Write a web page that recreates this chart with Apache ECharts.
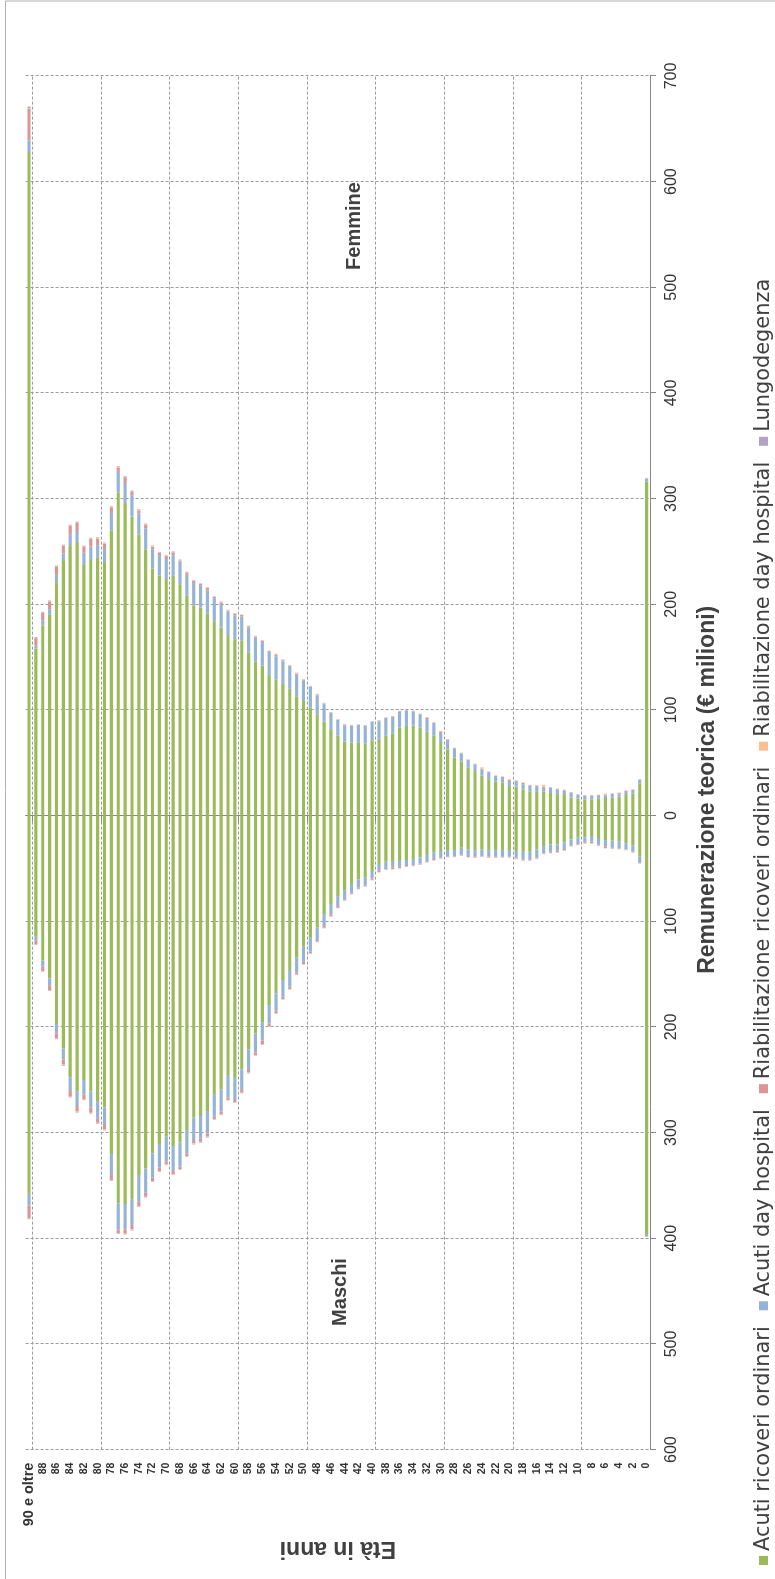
<!DOCTYPE html>
<html>
<head>
<meta charset="utf-8">
<script src="https://cdn.jsdelivr.net/npm/echarts@6/dist/echarts.min.js"></script>
<style>
html,body{margin:0;padding:0;background:#fff;width:775px;height:1579px;overflow:hidden;}
#chart{position:absolute;left:0;top:0;width:1579px;height:775px;transform-origin:0 0;transform:translate(0,1579px) rotate(-90deg);}
</style>
</head>
<body>
<div id="chart"></div>
<script>
// Categories: age classes, oldest first
const ages = ['90 e oltre','89','88','87','86','85','84','83','82','81','80','79','78','77','76','75','74','73','72','71','70','69','68','67','66','65','64','63','62','61','60','59','58','57','56','55','54','53','52','51','50','49','48','47','46','45','44','43','42','41','40','39','38','37','36','35','34','33','32','31','30','29','28','27','26','25','24','23','22','21','20','19','18','17','16','15','14','13','12','11','10','9','8','7','6','5','4','3','2','1','0'];

const seriesNames = ['Acuti ricoveri ordinari','Acuti day hospital','Riabilitazione ricoveri ordinari','Riabilitazione day hospital','Lungodegenza'];

// Femmine (€ milioni)
const femAcutiOrd = [628,158,180,190,221,241,256,259,238,243,244,240,270,306,296,283,266,252,234,227,224,227,219,208,199,197,191,184,178,171,167,166,154,146,142,133,129,124.5,120,112.5,108.5,102.5,96,89,81,75.6,70,69.4,69.4,68.4,71.3,72.8,75.6,77.9,83.2,84.8,85.1,83.2,79.4,76,69.7,62.7,55,51,45.3,42.2,37.8,34.6,32.1,31.5,28,27.4,24.9,23,22.4,23,21.4,20.4,20.4,17,16,15.4,15.4,16,16.7,17,17.9,19.5,21.1,30.6,316];
const femAcutiDH = [11,3,4.5,5.4,6.9,7.3,10.4,10.4,10.8,11.7,12,12.3,16.4,19.3,18.8,19.9,19.9,19.9,18,18.9,18.9,19.5,21.4,19.9,21.2,21.1,22.1,21.8,22,22.1,22.6,22.6,24,22.4,22.3,22,21.8,21.5,20.8,20.9,19.2,19.6,17.6,16.4,16.4,14.9,15.4,15.7,16.3,16.7,17.3,16.4,16.7,15.7,15.4,14.5,13.5,12.6,12,11.6,8.4,7.9,8.6,7.9,7.3,6.3,6,6.6,5.4,5,4.7,5.3,4.9,5.6,5.8,4.1,5.1,4.5,3.6,4.7,3.8,3.5,3.5,2.6,2.5,3.5,2.3,2.9,3.2,3.2,3];
const femRiabOrd = [30,7,7.3,7.3,7.9,7.2,7.9,7.9,5.7,7.3,6.3,5.1,5.4,4.2,5.6,4,3,3.6,2.6,2.7,2.7,2.7,1.2,2,2,1.2,2.3,1.2,1.8,1.1,1.5,1.3,1.2,1.2,1.1,0.7,1.7,1.1,1.1,1.1,0.9,0.4,1.1,0.8,0.4,0.4,0.8,0.4,0.4,0.4,0.4,0.8,0.4,0.4,0.4,0.4,0.4,0.4,1.2,0.4,1.5,1.3,0.4,0.3,0.3,0.3,0.6,0.3,0.3,0.3,1.1,0.3,1.1,0.3,0.3,0.3,0.3,0.3,0.3,0.3,0.3,0.3,0.3,0.8,0.8,0.3,1.1,1.1,0.3,0.3,0.3];
const femRiabDH = [0.5,0.3,0.3,0.3,0.3,0.3,0.4,0.4,0.4,0.4,0.5,0.5,0.5,1,0.6,0.5,0.8,0.5,0.6,0.5,0.5,0.5,0.4,0.5,0.5,0.4,0.5,0.4,0.5,0.4,0.4,0.3,0.4,0.4,0.5,0.3,0.5,0.5,0.5,0.5,0.4,0.2,0.5,0.4,0.2,0.2,0.4,0.2,0.2,0.2,0.2,0.4,0.2,0.2,0.2,0.2,0.2,0.2,0.6,0.2,0.6,0.5,0.2,0.2,0.2,0.2,1.2,0.2,0.2,0.2,0.4,0.2,0.4,0.2,0.2,1.6,0.2,0.2,0.2,0.2,0.2,0.2,0.2,0.3,0.8,0.2,0.4,0.4,0.2,0.2,0.2];
const femLungo = [1.5,0.8,0.8,0.6,0.6,0.6,0.6,0.6,0.6,0.6,0.6,0.5,0.5,0.4,0.4,0.4,0.4,0.4,0.4,0.4,0.4,0.4,0.4,0.4,0.4,0.3,0.3,0.3,0.3,0.2,0.2,0.2,0.2,0.2,0.2,0.2,0.2,0.2,0.2,0.2,0.2,0.1,0.1,0.1,0.1,0.1,0.1,0.1,0.1,0.1,0.1,0.1,0.1,0.1,0.1,0.1,0.1,0.1,0.1,0.1,0.1,0.1,0.1,0.1,0.1,0.1,0.1,0.1,0.1,0.1,0.1,0.1,0.1,0.1,0.1,0.1,0.1,0.1,0.1,0.1,0.1,0.1,0.1,0.1,0.1,0.1,0.1,0.1,0.1,0.1,0.1];

// Maschi (€ milioni, drawn to the other side of zero)
const masAcutiOrd = [358,114.6,137.3,154,197.2,220.2,247.7,261.3,250.2,261.3,270.8,276.1,320.3,366.9,367.6,362.9,340.1,333.8,319.6,310.8,303.9,313.4,309.2,297.6,285.5,284.3,279.6,263.5,259.1,246.2,248.1,240.1,221.2,206,196,179.3,168.2,155.6,146.1,134.5,124.1,115.6,106.1,93.1,83.7,76.1,71.1,64.7,60.3,58.8,52.4,45.8,43.6,43,42,42,41.1,39.5,37.3,35.1,33.5,32.6,32.6,30.4,31.9,32.6,31.9,32.6,32.6,32.6,32.6,33.5,34.2,34.2,31.9,28.8,27.2,27.2,25.3,22.4,20.9,20.5,19.3,22.1,23.1,23.7,24.7,26.2,28.5,38.9,396];
const masAcutiDH = [11,3.8,5.7,7,8.8,10.5,12,13.5,13.6,15.1,16.1,16.7,19.8,24.6,23.9,24.5,25.3,23.1,23,22.4,23.6,23,23.1,22,21.5,21.2,21.1,21.5,21.1,20.7,21,19.6,19.5,18,17,17.3,16.4,15.8,15.8,14.2,14.2,13.2,11.6,11.4,9.7,9.5,8.1,8.3,7.6,7.2,7,6.3,6.9,6.3,6.4,5.7,5.9,5.7,5.7,6,6,6,5.9,6.2,6.3,5.9,6.3,5.9,5.9,6.3,6.3,6.3,7.2,7.2,7.6,6.9,7,6,7.3,6.1,6.3,4.8,5.4,5.1,6.3,6.3,6.3,5.7,5.7,5.7,2];
const masRiabOrd = [12,3.4,4.1,4.1,4.8,4.7,6.3,5.3,4.7,4.8,3.8,4.1,4.8,3.8,4.2,4.1,4.1,3.8,3.2,3.2,2.5,2.9,2.2,2.5,3.2,3.2,3.2,2.2,2.5,2.2,1.9,2.5,2.5,2.5,3.2,2.5,2.5,2.2,2.2,1.6,2.2,1.6,1.6,1.6,1.6,1.6,1,1,1.3,1,1.3,1.3,0.5,1.3,1.3,0.6,0.5,1,1,1,1,0.6,0.5,1,1,1.2,0.5,1.2,1.2,0.6,0.5,1,1,1,1.2,0.5,1,1.5,0.5,0.5,0.5,1,1.5,1.2,1.2,1.2,0.5,0.5,0.5,0.5,0.5];
const masRiabDH = [0.4,0.3,0.3,0.3,0.3,0.5,0.3,0.4,0.4,0.4,0.5,0.5,0.5,0.4,0.5,0.7,0.6,0.5,0.5,0.5,0.5,0.5,0.5,0.5,0.6,0.5,0.5,0.5,0.5,0.4,0.5,0.4,0.4,0.4,0.6,0.4,0.4,0.4,0.4,0.4,0.4,0.3,0.3,0.3,0.3,0.3,0.3,0.3,0.3,0.3,0.3,0.3,0.2,0.3,0.3,0.2,0.2,0.3,0.3,0.3,0.3,0.2,0.2,0.3,0.3,0.3,0.2,0.3,0.3,0.2,0.2,0.3,0.3,0.3,0.3,0.2,0.3,0.3,0.2,0.2,0.2,0.3,0.3,0.3,0.3,0.3,0.2,0.2,0.2,0.2,0.2];
const masLungo = [0.6,0.3,0.3,0.5,0.5,0.8,0.4,0.5,0.4,0.5,0.5,0.5,0.4,0.3,0.3,0.5,0.4,0.3,0.4,0.4,0.4,0.4,0.3,0.4,0.4,0.4,0.3,0.3,0.3,0.2,0.3,0.3,0.3,0.3,0.3,0.3,0.2,0.2,0.2,0.2,0.2,0.2,0.2,0.2,0.2,0.2,0.2,0.2,0.2,0.2,0.2,0.1,0.1,0.1,0.1,0.1,0.1,0.1,0.1,0.1,0.1,0.1,0.1,0.1,0.1,0.1,0.1,0.1,0.1,0.1,0.1,0.1,0.1,0.1,0.1,0.1,0.1,0.1,0.1,0.1,0.1,0.1,0.1,0.1,0.1,0.1,0.1,0.1,0.1,0.1,0.1];

const valueTicks = {min: -600, max: 700, step: 100};

const colors = ['#9BBB59','#95B3D7','#D99694','#FAC090','#B3A2C7'];
const FONT = '"Liberation Sans", Arial, sans-serif';
const LEGEND_FONT = '"DejaVu Sans", sans-serif';

const femData = [femAcutiOrd, femAcutiDH, femRiabOrd, femRiabDH, femLungo];
const masData = [masAcutiOrd, masAcutiDH, masRiabOrd, masRiabDH, masLungo];

const series = [];
seriesNames.forEach((name, k) => {
  series.push({
    name: name, type: 'bar', stack: 'pop', barWidth: '46%',
    itemStyle: {color: colors[k]}, data: femData[k]
  });
});
seriesNames.forEach((name, k) => {
  series.push({
    name: name, type: 'bar', stack: 'pop', barWidth: '46%',
    itemStyle: {color: colors[k]}, data: masData[k].map(v => -v)
  });
});

const chart = echarts.init(document.getElementById('chart'), null, {renderer: 'canvas'});
const gridLineStyle = {color: '#9a9a9a', type: [3, 2], width: 1};
const boundaryEvery10 = (index) => index % 10 === 1;

chart.setOption({
  animation: false,
  backgroundColor: '#ffffff',
  textStyle: {fontFamily: FONT},
  grid: {left: 129.4, right: 76, top: 25.6, bottom: 125, containLabel: false},
  legend: {
    data: seriesNames, orient: 'horizontal', left: 9, top: 748,
    icon: 'rect', itemWidth: 9, itemHeight: 9, itemGap: 16,
    textStyle: {fontSize: 20.9, color: '#404040', fontFamily: LEGEND_FONT}
  },
  xAxis: {
    type: 'value', min: valueTicks.min, max: valueTicks.max, interval: valueTicks.step,
    position: 'bottom',
    name: 'Remunerazione teorica (€ milioni)', nameLocation: 'middle', nameGap: 46,
    nameTextStyle: {fontSize: 23, fontWeight: 'bold', color: '#404040', fontFamily: FONT, padding: [0, 54, 0, 0]},
    axisLine: {show: true, lineStyle: {color: '#868686', width: 1}},
    axisTick: {show: true, length: 6, lineStyle: {color: '#868686'}},
    axisLabel: {fontSize: 16, color: '#333', margin: 14, fontFamily: FONT, formatter: v => String(Math.abs(v))},
    splitLine: {show: true, lineStyle: gridLineStyle}
  },
  yAxis: {
    type: 'category', data: ages, inverse: true, boundaryGap: true,
    name: 'Età in anni', nameLocation: 'middle', nameGap: 86,
    nameTextStyle: {fontSize: 23, fontWeight: 'bold', color: '#404040', fontFamily: FONT},
    axisLine: {show: true, lineStyle: {color: '#868686', width: 1}},
    axisTick: {show: true, length: 6, interval: boundaryEvery10, lineStyle: {color: '#868686'}},
    axisLabel: {
      interval: 1, margin: 13, fontSize: 10.5, fontWeight: 'bold', color: '#333', fontFamily: FONT,
      formatter: (v, i) => i === 0 ? '{big|' + v + '}' : v,
      rich: {big: {fontSize: 14.5, fontWeight: 'bold', color: '#333', fontFamily: FONT}}
    },
    splitLine: {show: true, interval: boundaryEvery10, lineStyle: gridLineStyle}
  },
  graphic: [
    {type: 'rect', z: -1, silent: true, shape: {x: -10, y: 5.5, width: 1588, height: 800},
     style: {fill: 'none', stroke: '#b0b0b0', lineWidth: 1}},
    {type: 'text', x: 1353, y: 354, style: {text: 'Femmine', font: 'bold 20px ' + FONT, fill: '#404040', textAlign: 'center', textVerticalAlign: 'middle'}},
    {type: 'text', x: 287, y: 340, style: {text: 'Maschi', font: 'bold 20px ' + FONT, fill: '#404040', textAlign: 'center', textVerticalAlign: 'middle'}}
  ],
  series: series
});
</script>
</body>
</html>
